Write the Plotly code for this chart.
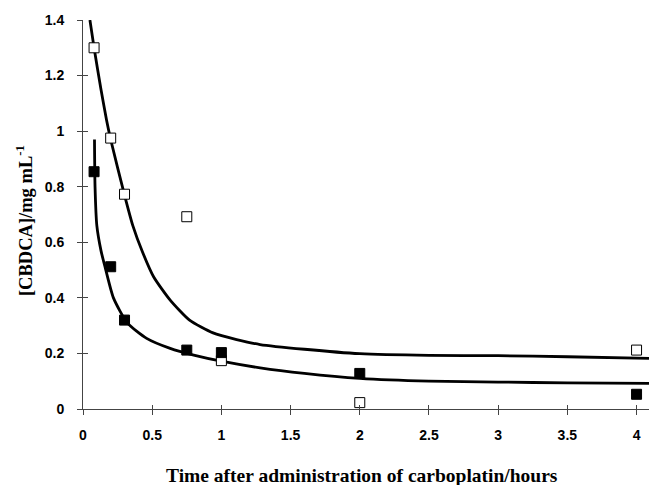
import plotly.graph_objects as go

# Measured points (open squares / filled squares)
t_open = [0.08, 0.2, 0.3, 0.75, 1.0, 2.0, 4.0]
c_open = [1.30, 0.975, 0.773, 0.692, 0.174, 0.023, 0.212]
t_filled = [0.08, 0.2, 0.3, 0.75, 1.0, 2.0, 4.0]
c_filled = [0.854, 0.512, 0.32, 0.212, 0.203, 0.128, 0.053]

# Fitted curves
fit_open_t = [0.05, 0.08, 0.13, 0.17, 0.2, 0.3, 0.36, 0.43, 0.51, 0.63, 0.77, 0.94,
              1.11, 1.28, 1.6, 2.0, 2.5, 3.0, 3.5, 4.09]
fit_open_c = [1.40, 1.30, 1.15, 1.04, 0.97, 0.77, 0.66, 0.565, 0.476, 0.392, 0.32, 0.274,
              0.25, 0.232, 0.215, 0.199, 0.193, 0.192, 0.188, 0.182]
fit_filled_t = [0.083, 0.087, 0.1, 0.13, 0.16, 0.22, 0.32, 0.46, 0.63, 0.8, 1.0, 1.28,
                1.6, 2.0, 2.5, 3.0, 3.5, 4.09]
fit_filled_c = [0.97, 0.80, 0.66, 0.57, 0.51, 0.40, 0.31, 0.254, 0.218, 0.194, 0.172, 0.148,
                0.128, 0.11, 0.10, 0.097, 0.094, 0.092]

tick_font = dict(family='Liberation Sans', size=14, color='black', weight='bold')

fig = go.Figure()

# Curves first, markers on top
fig.add_scatter(x=fit_open_t, y=fit_open_c, mode='lines', line=dict(color='black', width=2.8, shape='spline', smoothing=0.6), showlegend=False)
fig.add_scatter(x=fit_filled_t, y=fit_filled_c, mode='lines', line=dict(color='black', width=2.8, shape='spline', smoothing=0.6), showlegend=False)
fig.add_scatter(x=t_open, y=c_open, mode='markers',
                marker=dict(symbol='square', size=10, color='white', line=dict(color='black', width=1)), showlegend=False)
fig.add_scatter(x=t_filled, y=c_filled, mode='markers',
                marker=dict(symbol='square', size=10, color='black', line=dict(color='black', width=1)), showlegend=False)

# Empty trace on overlay axes, gives the inside half of the crossing ticks
fig.add_scatter(x=[None], y=[None], xaxis='x2', yaxis='y2', showlegend=False, hoverinfo='skip')

axis_common = dict(showgrid=False, zeroline=False, showline=True, linecolor='#444', linewidth=1,
                   ticks='outside', ticklen=5, tickwidth=1, tickcolor='#444', tickfont=tick_font,
                   ticklabeloverflow='allow')

fig.update_layout(autosize=False, width=649, height=485,
    margin=dict(l=83, r=0, t=20, b=76, pad=0),
    paper_bgcolor='white', plot_bgcolor='white',
    xaxis=dict(range=[0, 4.09], tick0=0, dtick=0.5, ticklabelstandoff=8, **axis_common),
    yaxis=dict(range=[0, 1.4], tick0=0, dtick=0.2, ticklabelstandoff=10, **axis_common),
    xaxis2=dict(range=[0, 4.09], tick0=0, dtick=0.5, overlaying='x', showgrid=False, zeroline=False,
                showticklabels=False, ticks='inside', ticklen=4, tickcolor='#444', side='bottom'),
    yaxis2=dict(range=[0, 1.4], tick0=0, dtick=0.2, overlaying='y', showgrid=False, zeroline=False,
                showticklabels=False, ticks='inside', ticklen=5, tickcolor='#444', side='left'))

# Axis titles as annotations for exact placement
fig.add_annotation(text='[CBDCA]/mg mL<sup>-1</sup>', textangle=-90, xref='paper', yref='paper',
                   x=-0.103, y=0.485, xanchor='center', yanchor='middle', showarrow=False,
                   font=dict(family='Liberation Serif', size=18.5, color='black', weight='bold'))
fig.add_annotation(text='Time after administration of carboplatin/hours', xref='paper', yref='paper',
                   x=0.493, y=-0.17, xanchor='center', yanchor='middle', showarrow=False,
                   font=dict(family='Liberation Serif', size=19.5, color='black', weight='bold'))

# page margin off, so the figure sits at the window corner; no modebar
fig.write_html("out.html", post_script="document.body.style.margin='0';",
               config={'displayModeBar': False})
